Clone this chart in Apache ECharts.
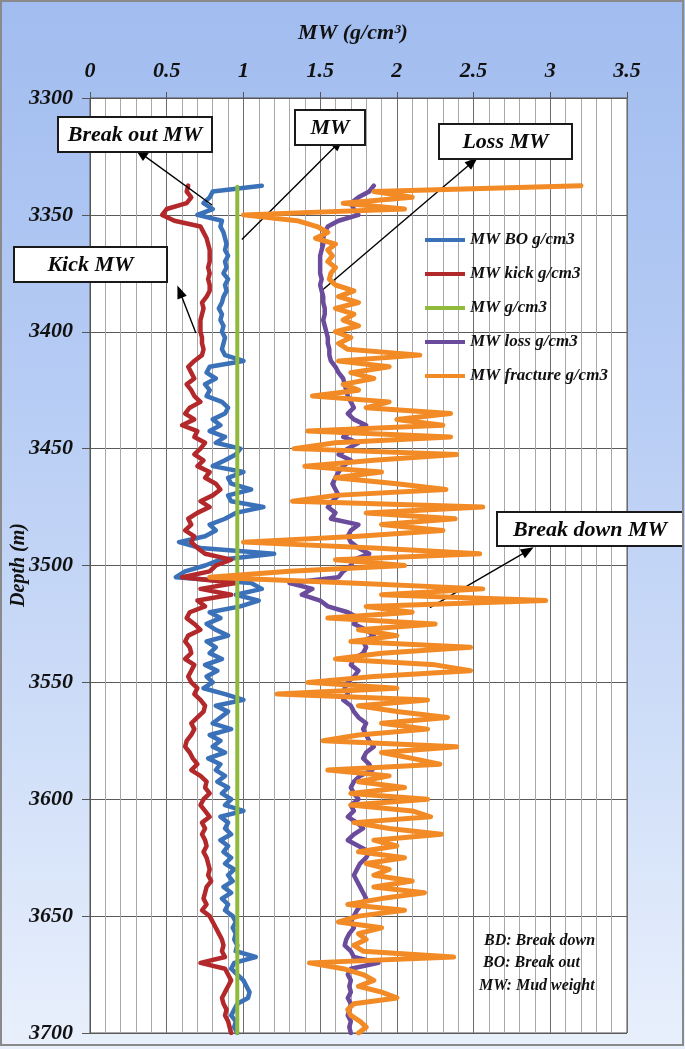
<!DOCTYPE html>
<html>
<head>
<meta charset="utf-8">
<script src="https://cdn.jsdelivr.net/npm/echarts@6/dist/echarts.min.js"></script>
<style>
  html, body { margin: 0; padding: 0; }
  #wrap { position: relative; width: 685px; height: 1049px;
    background: linear-gradient(180deg, #a1bcef 0%, #b5cbf4 35%, #cfdef8 70%, #e9f0fc 100%); }
  #frame { position: absolute; left: 0; top: 0; width: 684px; height: 1046px; box-sizing: border-box;
    border: 2px solid #8a8a8a; pointer-events: none; }
  #chart { position: absolute; left: 0; top: 0; width: 685px; height: 1049px; }
</style>
</head>
<body>
<div id="wrap"><div id="chart"></div><div id="frame"></div></div>
<script>
// ---------------- DATA ----------------
const depths = [
  3337.5,3340,3342.5,3345,3347.5,3350,3352.5,3355,3357.5,3360,
  3362.5,3365,3367.5,3370,3372.5,3375,3377.5,3380,3382.5,3385,
  3387.5,3390,3392.5,3395,3397.5,3400,3402.5,3405,3407.5,3410,
  3412.5,3415,3417.5,3420,3422.5,3425,3427.5,3430,3432.5,3435,
  3437.5,3440,3442.5,3445,3447.5,3450,3452.5,3455,3457.5,3460,
  3462.5,3465,3467.5,3470,3472.5,3475,3477.5,3480,3482.5,3485,
  3487.5,3490,3492.5,3495,3497.5,3500,3502.5,3505,3507.5,3510,
  3512.5,3515,3517.5,3520,3522.5,3525,3527.5,3530,3532.5,3535,
  3537.5,3540,3542.5,3545,3547.5,3550,3552.5,3555,3557.5,3560,
  3562.5,3565,3567.5,3570,3572.5,3575,3577.5,3580,3582.5,3585,
  3587.5,3590,3592.5,3595,3597.5,3600,3602.5,3605,3607.5,3610,
  3612.5,3615,3617.5,3620,3622.5,3625,3627.5,3630,3632.5,3635,
  3637.5,3640,3642.5,3645,3647.5,3650,3652.5,3655,3657.5,3660,
  3662.5,3665,3667.5,3670,3672.5,3675,3677.5,3680,3682.5,3685,
  3687.5,3690,3692.5,3695,3697.5,3700
];
const boValues = [
  1.12,0.80,0.78,0.74,0.80,0.70,0.86,0.85,0.87,0.88,
  0.89,0.88,0.90,0.88,0.89,0.87,0.90,0.88,0.89,0.87,
  0.86,0.84,0.86,0.85,0.87,0.86,0.88,0.87,0.86,0.88,
  1.00,0.78,0.76,0.82,0.75,0.78,0.76,0.86,0.90,0.88,
  0.80,0.85,0.78,0.88,0.82,0.98,0.95,0.88,0.80,1.00,
  0.90,0.92,1.05,0.90,0.92,1.13,0.95,0.88,0.78,0.82,
  0.75,0.58,0.72,1.20,0.85,0.75,0.62,0.56,1.05,1.12,
  0.95,1.10,0.98,0.78,0.85,0.76,0.82,0.90,0.76,0.82,
  0.78,0.86,0.75,0.83,0.76,0.80,0.74,0.88,1.00,0.82,
  0.90,0.85,0.80,0.92,0.78,0.85,0.80,0.88,0.77,0.85,
  0.82,0.88,0.83,0.90,0.86,0.92,0.88,1.00,0.85,0.90,
  0.88,0.92,0.85,0.90,0.87,0.92,0.88,0.94,0.90,0.93,
  0.87,0.92,0.86,0.90,0.88,0.93,0.95,0.93,0.95,0.94,
  0.96,0.95,1.08,0.94,0.92,0.96,1.00,1.02,1.04,1.03,
  0.96,0.94,0.92,0.95,0.94,0.96
];
const kickValues = [
  0.64,0.63,0.66,0.63,0.50,0.47,0.55,0.72,0.74,0.76,
  0.77,0.78,0.78,0.78,0.77,0.78,0.77,0.78,0.78,0.76,
  0.73,0.74,0.73,0.72,0.72,0.72,0.73,0.73,0.74,0.73,
  0.68,0.64,0.66,0.68,0.63,0.66,0.68,0.72,0.65,0.62,
  0.68,0.60,0.70,0.68,0.75,0.72,0.68,0.74,0.70,0.78,
  0.75,0.82,0.85,0.80,0.72,0.78,0.70,0.64,0.66,0.62,
  0.68,0.66,0.70,0.75,0.92,0.82,0.78,0.60,0.95,0.72,
  0.92,0.70,0.75,0.65,0.63,0.68,0.72,0.64,0.62,0.65,
  0.66,0.62,0.68,0.66,0.64,0.66,0.70,0.68,0.72,0.75,
  0.74,0.70,0.66,0.68,0.66,0.63,0.62,0.65,0.67,0.70,
  0.66,0.72,0.76,0.75,0.78,0.74,0.72,0.75,0.78,0.73,
  0.75,0.73,0.75,0.76,0.74,0.76,0.77,0.78,0.77,0.79,
  0.76,0.75,0.74,0.76,0.73,0.78,0.80,0.82,0.84,0.86,
  0.87,0.86,0.88,0.72,0.88,0.90,0.92,0.90,0.88,0.86,
  0.87,0.89,0.88,0.90,0.91,0.92
];
const lossValues = [
  1.85,1.82,1.75,1.70,1.72,1.75,1.62,1.55,1.53,1.52,
  1.52,1.51,1.50,1.50,1.50,1.50,1.51,1.50,1.51,1.52,
  1.52,1.53,1.53,1.52,1.53,1.54,1.55,1.55,1.56,1.56,
  1.57,1.60,1.62,1.65,1.66,1.67,1.68,1.70,1.72,1.68,
  1.72,1.80,1.70,1.65,1.75,1.68,1.62,1.70,1.65,1.62,
  1.60,1.58,1.60,1.62,1.58,1.55,1.60,1.57,1.75,1.70,
  1.68,1.70,1.75,1.82,1.72,1.70,1.65,1.62,1.30,1.45,
  1.38,1.50,1.55,1.68,1.75,1.72,1.80,1.85,1.78,1.80,
  1.78,1.72,1.70,1.75,1.72,1.68,1.66,1.68,1.65,1.70,
  1.72,1.75,1.80,1.78,1.80,1.82,1.85,1.80,1.78,1.82,
  1.84,1.76,1.72,1.70,1.72,1.75,1.70,1.72,1.68,1.74,
  1.78,1.72,1.68,1.75,1.82,1.80,1.76,1.74,1.72,1.74,
  1.76,1.78,1.80,1.77,1.74,1.72,1.70,1.72,1.69,1.67,
  1.66,1.70,1.72,1.88,1.70,1.68,1.70,1.69,1.70,1.68,
  1.70,1.69,1.68,1.70,1.69,1.70
];
const fractureValues = [
  3.20,1.85,2.10,1.65,2.05,1.00,1.35,1.48,1.55,1.47,
  1.60,1.55,1.58,1.55,1.60,1.57,1.56,1.60,1.72,1.62,
  1.75,1.60,1.72,1.65,1.75,1.60,1.70,1.62,1.68,2.15,
  1.62,1.95,1.70,1.85,1.65,1.75,1.45,1.95,1.80,2.35,
  2.00,2.30,1.42,2.35,1.60,1.33,2.39,1.85,1.40,1.90,
  1.60,2.00,2.32,1.60,1.32,2.56,1.80,2.38,1.90,2.30,
  1.75,1.00,1.85,2.54,1.60,2.05,1.30,0.78,1.70,2.56,
  1.90,2.97,1.80,2.10,1.55,2.25,1.75,2.00,1.70,2.48,
  1.90,1.60,2.25,2.48,1.85,1.42,2.00,1.22,2.20,1.75,
  2.00,2.33,1.90,2.20,1.75,1.52,2.39,1.90,2.10,2.28,
  1.55,1.95,1.75,2.05,1.70,2.20,1.70,2.10,2.22,1.72,
  1.95,2.29,1.85,2.00,1.75,2.05,1.80,1.95,1.85,2.10,
  1.85,2.18,1.90,1.68,2.05,1.75,1.62,1.90,1.75,1.80,
  1.72,1.78,2.37,1.43,1.65,1.78,1.85,1.75,1.90,2.00,
  1.72,1.68,1.70,1.76,1.80,1.75
];
const mwDepths = [3338, 3700];
const mwValues = [0.96, 0.96];

const seriesNames = ['MW BO g/cm3', 'MW kick g/cm3', 'MW g/cm3', 'MW loss g/cm3', 'MW fracture g/cm3'];
const xAxisRange = [0, 3.5];
const xTickStep = 0.5;
const yAxisRange = [3300, 3700];
const yTickStep = 50;
const xTitle = 'MW (g/cm\u00B3)';
const yTitle = 'Depth (m)';
const notes = ['BD: Break down', 'BO: Break out', 'MW: Mud weight'];

// annotation arrows: [from (on curve), to (at label box)] in data units [MW, depth]
const arrowLabels = ['Break out MW', 'MW', 'Kick MW', 'Loss MW', 'Break down MW'];
const arrowCoords = [
  [[0.795, 3345.8], [0.33, 3323.6]],
  [[0.99, 3360.5], [1.62, 3319.3]],
  [[0.69, 3400.5], [0.585, 3382.8]],
  [[1.50, 3383.0], [2.495, 3327.3]],
  [[2.215, 3518.0], [2.855, 3493.6]]
];

// ---------------- LAYOUT / STYLE ----------------
const FONT = "'Liberation Serif', 'DejaVu Serif', serif";
const colors = ['#3b71b8', '#b3292b', '#8fba3c', '#6a4b9c', '#f28a25'];
const widths = [4.5, 4.5, 4, 4.5, 5];
const boxes = [ // [x, y, w, h] pixel layout of label boxes
  [58, 117, 154, 35],
  [295, 110, 70, 35],
  [14, 247, 153, 35],
  [439, 124, 133, 35],
  [497, 512, 186, 34]
];

const chart = echarts.init(document.getElementById('chart'), null, { renderer: 'canvas' });

function pairs(vals, ds) { return ds.map((d, i) => [vals[i], d]); }
const valueSets = [boValues, kickValues, mwValues, lossValues, fractureValues];
const depthSets = [depths, depths, mwDepths, depths, depths];

const series = seriesNames.map((name, i) => ({
  name, type: 'line', data: pairs(valueSets[i], depthSets[i]),
  showSymbol: false, symbol: 'none', animation: false, z: 3 + i,
  lineStyle: { color: colors[i], width: widths[i], join: 'round', cap: 'round' },
  itemStyle: { color: colors[i] }
}));
// arrows as markLine on the MW series
series[2].markLine = {
  silent: true, animation: false, symbol: ['none', 'triangle'], symbolSize: [10, 13],
  label: { show: false },
  lineStyle: { color: '#000', width: 1.4, type: 'solid' },
  emphasis: { disabled: true },
  data: arrowCoords.map(a => [{ coord: a[0] }, { coord: a[1] }])
};

const graphics = [];
boxes.forEach((b, i) => {
  graphics.push({ type: 'rect', shape: { x: b[0], y: b[1], width: b[2], height: b[3] },
    style: { fill: '#fff', stroke: '#1a1a1a', lineWidth: 2 }, z: 100 });
  graphics.push({ type: 'text', x: b[0] + b[2] / 2, y: b[1] + b[3] / 2 + 1, z: 101,
    style: { text: arrowLabels[i], font: `italic bold 22px ${FONT}`, fill: '#0a0a0a',
      textAlign: 'center', textVerticalAlign: 'middle' } });
});
graphics.push({ type: 'text', x: 353, y: 33, z: 101,
  style: { text: xTitle, font: `italic bold 22px ${FONT}`, fill: '#111', textAlign: 'center', textVerticalAlign: 'middle' } });
graphics.push({ type: 'text', x: 19, y: 565, rotation: Math.PI / 2, z: 101,
  style: { text: yTitle, font: `italic bold 20px ${FONT}`, fill: '#111', textAlign: 'center', textVerticalAlign: 'middle' } });
const noteXY = [[484, 941], [483, 963], [479, 986]];
notes.forEach((t, i) => graphics.push({ type: 'text', x: noteXY[i][0], y: noteXY[i][1], z: 101,
  style: { text: t, font: `italic bold 16px ${FONT}`, fill: '#111', textAlign: 'left', textVerticalAlign: 'middle' } }));

chart.setOption({
  animation: false,
  grid: { left: 90, right: 58, top: 98, bottom: 16, show: true, backgroundColor: '#fff', borderColor: '#555', borderWidth: 1,
    containLabel: false, outerBoundsMode: 'none' },
  xAxis: {
    type: 'value', position: 'top', min: xAxisRange[0], max: xAxisRange[1], interval: xTickStep,
    axisLine: { show: true, lineStyle: { color: '#555' } },
    axisTick: { show: true, length: 6, lineStyle: { color: '#555' } },
    axisLabel: { margin: 16, color: '#111', fontFamily: FONT, fontStyle: 'italic', fontWeight: 'bold', fontSize: 22,
      formatter: v => String(v) },
    splitLine: { show: true, lineStyle: { color: '#6e6e6e', width: 1 } },
    minorTick: { show: false, splitNumber: 5 },
    minorSplitLine: { show: true, lineStyle: { color: '#a8a8a8', width: 1 } }
  },
  yAxis: {
    type: 'value', inverse: true, min: yAxisRange[0], max: yAxisRange[1], interval: yTickStep,
    axisLine: { show: true, lineStyle: { color: '#555' } },
    axisTick: { show: true, length: 8, lineStyle: { color: '#555' } },
    axisLabel: { margin: 17, color: '#111', fontFamily: FONT, fontStyle: 'italic', fontWeight: 'bold', fontSize: 22,
      formatter: v => String(v) },
    splitLine: { show: true, lineStyle: { color: '#5a5a5a', width: 1 } }
  },
  legend: {
    orient: 'vertical', left: 425, top: 230, padding: 0, itemGap: 14, itemWidth: 40, itemHeight: 4,
    icon: 'rect', selectedMode: false,
    data: seriesNames,
    textStyle: { color: '#111', fontFamily: FONT, fontStyle: 'italic', fontWeight: 'bold', fontSize: 17, lineHeight: 20 }
  },
  graphic: graphics,
  series
});
</script>
</body>
</html>
